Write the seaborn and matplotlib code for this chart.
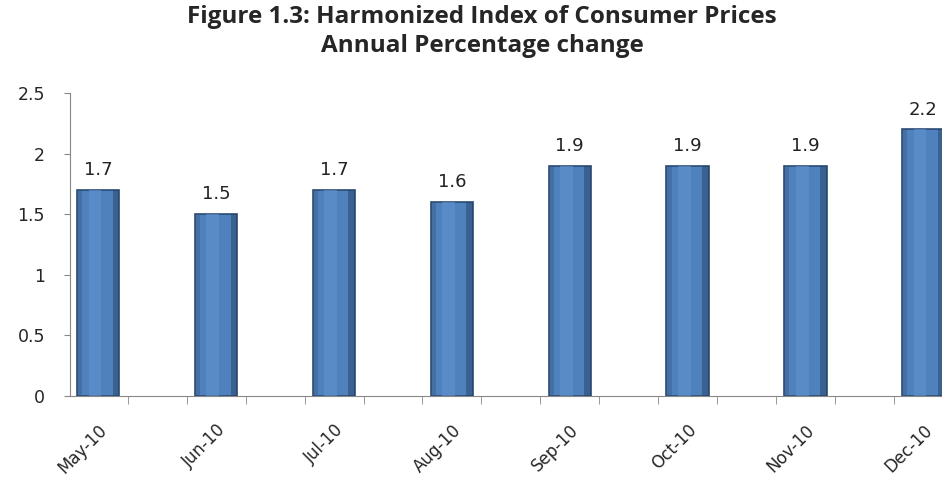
import numpy as np
import pandas as pd
import matplotlib
matplotlib.use("Agg")
import matplotlib.pyplot as plt
import seaborn as sns

# Datos
meses = ['May-10', 'Jun-10', 'Jul-10', 'Aug-10', 'Sep-10', 'Oct-10', 'Nov-10', 'Dec-10']
valores = [1.7, 1.5, 1.7, 1.6, 1.9, 1.9, 1.9, 2.2]

df = pd.DataFrame({'mes': meses, 'valor': valores})

sns.set_style("white")
plt.rcParams['font.family'] = ['DejaVu Sans']

fig = plt.figure(figsize=(9.42, 4.8), dpi=100)
ax = fig.add_axes([0.0743, 0.175, 0.926, 0.631])

sns.barplot(data=df, x='mes', y='valor', color='#4f81bd', width=0.36,
            edgecolor='#2b4b73', linewidth=1.2, saturation=1, ax=ax)

# sombreado tipo Excel: franja clara al centro y lados oscuros
for p in ax.patches:
    x0 = p.get_x()
    w = p.get_width()
    h = p.get_height()
    ax.bar(x0 + w * 0.42, h, width=w * 0.3, bottom=0, color='#5f93d0',
           alpha=0.6, linewidth=0, align='center', zorder=p.get_zorder() + 0.1)
    ax.bar(x0 + w * 0.92, h, width=w * 0.16, bottom=0, color='#1f3a5c',
           alpha=0.45, linewidth=0, align='center', zorder=p.get_zorder() + 0.1)
    ax.bar(x0 + w * 0.06, h, width=w * 0.12, bottom=0, color='#2b4b73',
           alpha=0.3, linewidth=0, align='center', zorder=p.get_zorder() + 0.1)

for i, v in enumerate(valores):
    ax.text(i, v + 0.09, f'{v}', ha='center', va='bottom', fontsize=13, color='#222222')

ax.set_xlim(-0.24, 7.16)
ax.set_ylim(0, 2.5)
ax.set_yticks([0, 0.5, 1, 1.5, 2, 2.5])
ax.set_yticklabels(['0', '0.5', '1', '1.5', '2', '2.5'], fontsize=12.5)
ax.set_xticks(range(len(meses)))
ax.set_xticklabels(meses, rotation=45, ha='right', rotation_mode='anchor', fontsize=12)
ax.tick_params(axis='x', length=0, pad=18)
ax.tick_params(axis='y', length=4, color='#888888', direction='out', left=True, pad=14)
ax.set_xticks(np.arange(0.25, 7.2, 0.5), minor=True)
ax.tick_params(axis='x', which='minor', length=6, color='#888888', direction='out', bottom=True)

ax.set_xlabel('')
ax.set_ylabel('')
for s in ['top', 'right']:
    ax.spines[s].set_visible(False)
ax.spines['left'].set_color('#888888')
ax.spines['bottom'].set_color('#888888')

fig.suptitle('Figure 1.3: Harmonized Index of Consumer Prices\nAnnual Percentage change',
             x=0.512, y=0.99, fontsize=17.5, fontweight='bold', family='Open Sans',
             linespacing=1.3)

plt.savefig('out.png', dpi=100)
